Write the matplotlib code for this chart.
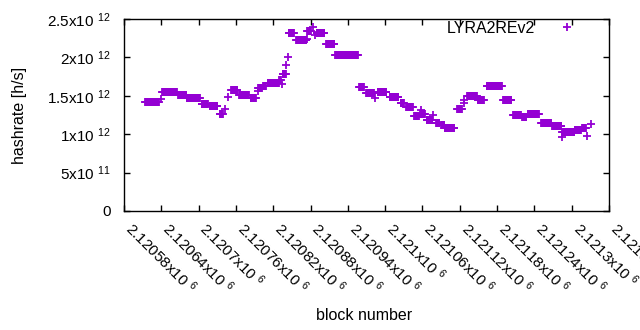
import numpy as np
import matplotlib
matplotlib.use("Agg")
import matplotlib.pyplot as plt

plt.rcParams['font.family'] = ['Liberation Sans', 'DejaVu Sans']
plt.rcParams['mathtext.fontset'] = 'custom'
plt.rcParams['mathtext.rm'] = 'Liberation Sans'
plt.rcParams['mathtext.it'] = 'Liberation Sans'
plt.rcParams['mathtext.default'] = 'regular'

# plateaus: first block, last block, hashrate [h/s]
seg_start = [2120614, 2120641, 2120667, 2120681, 2120705, 2120718, 2120734,
             2120752, 2120765, 2120784, 2120796, 2120804, 2120811, 2120830,
             2120835, 2120845, 2120857, 2120875, 2120890, 2120905, 2120920,
             2120958, 2120969, 2120988, 2121007, 2121025, 2121034, 2121047,
             2121056, 2121067, 2121082, 2121090, 2121096, 2121116, 2121132,
             2121149, 2121163, 2121190, 2121206, 2121220, 2121229, 2121251,
             2121269, 2121285, 2121305, 2121317]
seg_end = [2120636, 2120665, 2120680, 2120702, 2120715, 2120730, 2120739,
           2120762, 2120781, 2120792, 2120802, 2120808, 2120829, 2120832,
           2120840, 2120853, 2120873, 2120880, 2120902, 2120918, 2120956,
           2120966, 2120982, 2121002, 2121021, 2121030, 2121044, 2121054,
           2121064, 2121076, 2121087, 2121095, 2121111, 2121123, 2121147,
           2121159, 2121188, 2121203, 2121218, 2121227, 2121247, 2121267,
           2121283, 2121304, 2121315, 2121323]
seg_rate = [1.413e12, 1.545e12, 1.504e12, 1.469e12, 1.393e12, 1.367e12, 1.260e12,
            1.575e12, 1.510e12, 1.470e12, 1.600e12, 1.630e12, 1.672e12, 1.700e12,
            1.780e12, 2.315e12, 2.233e12, 2.350e12, 2.313e12, 2.170e12, 2.027e12,
            1.610e12, 1.530e12, 1.555e12, 1.480e12, 1.400e12, 1.348e12, 1.233e12,
            1.263e12, 1.185e12, 1.146e12, 1.120e12, 1.087e12, 1.324e12, 1.496e12,
            1.440e12, 1.624e12, 1.440e12, 1.256e12, 1.230e12, 1.262e12, 1.152e12,
            1.103e12, 1.026e12, 1.060e12, 1.075e12]

# single blocks off the plateaus
pt_block = [2120640, 2120743, 2120748, 2120795, 2120834, 2120841, 2120844,
            2120874, 2120884, 2120887, 2120984, 2121057, 2121077, 2121126,
            2121127, 2121284, 2121325, 2121331]
pt_rate = [1.460e12, 1.324e12, 1.480e12, 1.567e12, 1.660e12, 1.900e12, 2.010e12,
           2.240e12, 2.400e12, 2.290e12, 1.467e12, 1.310e12, 1.250e12, 1.445e12,
           1.400e12, 0.967e12, 0.977e12, 1.133e12]

xticks = [2120580 + 60 * k for k in range(14)]
xtick_labels = ['2.12058', '2.12064', '2.1207', '2.12076', '2.12082', '2.12088',
                '2.12094', '2.121', '2.12106', '2.12112', '2.12118', '2.12124',
                '2.1213', '2.12136']
yticks = [0, 5e11, 1e12, 1.5e12, 2e12, 2.5e12]
ytick_labels = ['0', '5x10 $^{11}$', '1x10 $^{12}$', '1.5x10 $^{12}$',
                '2x10 $^{12}$', '2.5x10 $^{12}$']

blocks = []
rates = []
for s, e, v in zip(seg_start, seg_end, seg_rate):
    b = np.arange(s, e + 1)
    blocks.extend(b)
    rates.extend([v] * len(b))
blocks.extend(pt_block)
rates.extend(pt_rate)

color = '#9400D3'
fig = plt.figure(figsize=(6.4, 3.3), dpi=100)
ax = fig.add_axes([124 / 640, 1 - 211 / 330, 485 / 640, 192 / 330])
ax.plot(blocks, rates, linestyle='none', marker='+', color=color,
        markersize=5.8, markeredgewidth=1.3, label='LYRA2REv2')

ax.set_xlim(2120580, 2121360)
ax.set_ylim(0, 2.5e12)
ax.set_xticks(xticks)
ax.set_xticklabels([l + 'x10 $^{6}$' for l in xtick_labels],
                   rotation=-45, ha='left', va='baseline', rotation_mode='anchor',
                   fontsize=11)
ax.set_yticks(yticks)
ax.set_yticklabels(ytick_labels, fontsize=11)
ax.tick_params(direction='in', length=4, width=1, top=True, right=True)
ax.tick_params(axis='x', pad=13.5)
ax.tick_params(axis='y', pad=9.5)
for sp in ax.spines.values():
    sp.set_linewidth(1)

ax.set_xlabel('block number', fontsize=11.5, va='center')
ax.xaxis.set_label_coords(0.495, (211 - 315) / 192)
ax.set_ylabel('hashrate [h/s]', fontsize=11.5, va='center')
ax.yaxis.set_label_coords((20 - 124) / 485, 0.5)

leg = ax.legend(loc='upper right', bbox_to_anchor=(0.93, 0.99), frameon=False,
                markerfirst=False, fontsize=11.5, handlelength=1.0,
                handletextpad=1.5, borderpad=0, borderaxespad=0)

fig.savefig('out.png', dpi=100)
